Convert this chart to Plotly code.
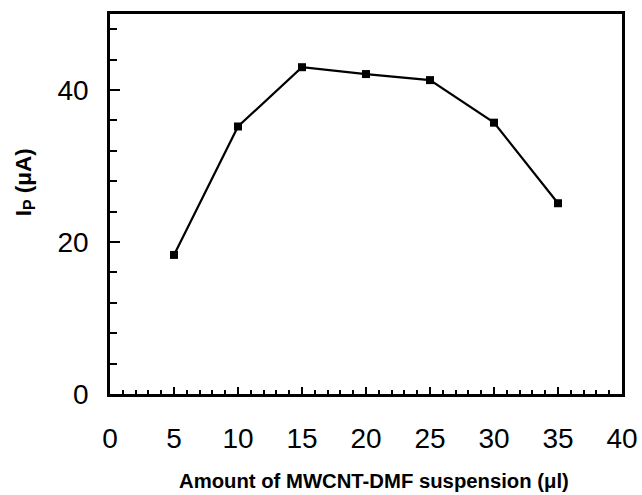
import plotly.graph_objects as go

amount_ul = [5, 10, 15, 20, 25, 30, 35]
ip_uA = [18.3, 35.2, 43.0, 42.1, 41.3, 35.7, 25.1]

x_ticks = [0, 5, 10, 15, 20, 25, 30, 35, 40]
y_ticks = [0, 20, 40]

x_title = "<b>Amount of MWCNT-DMF suspension (μl)</b>"
y_title = "<b>I<sub>P</sub> (μA)</b>"

fig = go.Figure()
fig.add_trace(go.Scatter(
    x=amount_ul, y=ip_uA, mode="lines+markers",
    line=dict(color="black", width=2.2),
    marker=dict(symbol="square", size=8, color="black"),
    showlegend=False,
    cliponaxis=False,
    hoverinfo="skip",
))

font_family = "Liberation Sans, Arial, sans-serif"
fig.update_layout(
    width=642, height=495,
    margin=dict(l=110, r=20, t=14, b=101),
    paper_bgcolor="white", plot_bgcolor="white",
    font=dict(family=font_family, color="black"),
    xaxis=dict(
        range=[0, 40], tickvals=x_ticks, ticktext=[str(v) for v in x_ticks],
        showline=True, linecolor="black", linewidth=2.5, mirror=True,
        ticks="inside", ticklen=7, tickwidth=2, tickcolor="black",
        minor=dict(dtick=1, ticks="inside", ticklen=4, tickwidth=2, tickcolor="black"),
        showgrid=False, zeroline=False, automargin=False,
        tickfont=dict(size=28, family=font_family),
        ticklabelstandoff=18,
    ),
    yaxis=dict(
        range=[0, 50], tickvals=y_ticks, ticktext=[str(v) for v in y_ticks],
        showline=True, linecolor="black", linewidth=2.5, mirror=True,
        ticks="inside", ticklen=10, tickwidth=2, tickcolor="black",
        minor=dict(dtick=4, tick0=0, ticks="inside", ticklen=7, tickwidth=2, tickcolor="black"),
        showgrid=False, zeroline=False, automargin=False,
        tickfont=dict(size=28, family=font_family),
        ticklabelstandoff=13,
    ),
    annotations=[
        dict(text=x_title, xref="paper", yref="paper", x=0.5156, y=-0.228,
             xanchor="center", yanchor="middle", showarrow=False,
             font=dict(size=20.3, family=font_family, color="black")),
        dict(text=y_title, xref="paper", yref="paper", x=-0.166, y=0.557,
             xanchor="center", yanchor="middle", showarrow=False, textangle=-90,
             font=dict(size=22.5, family=font_family, color="black")),
    ],
)

fig.write_html(
    "out.html",
    config={"displayModeBar": False},
    post_script="document.body.style.margin='0px';document.body.style.overflow='hidden';",
)
